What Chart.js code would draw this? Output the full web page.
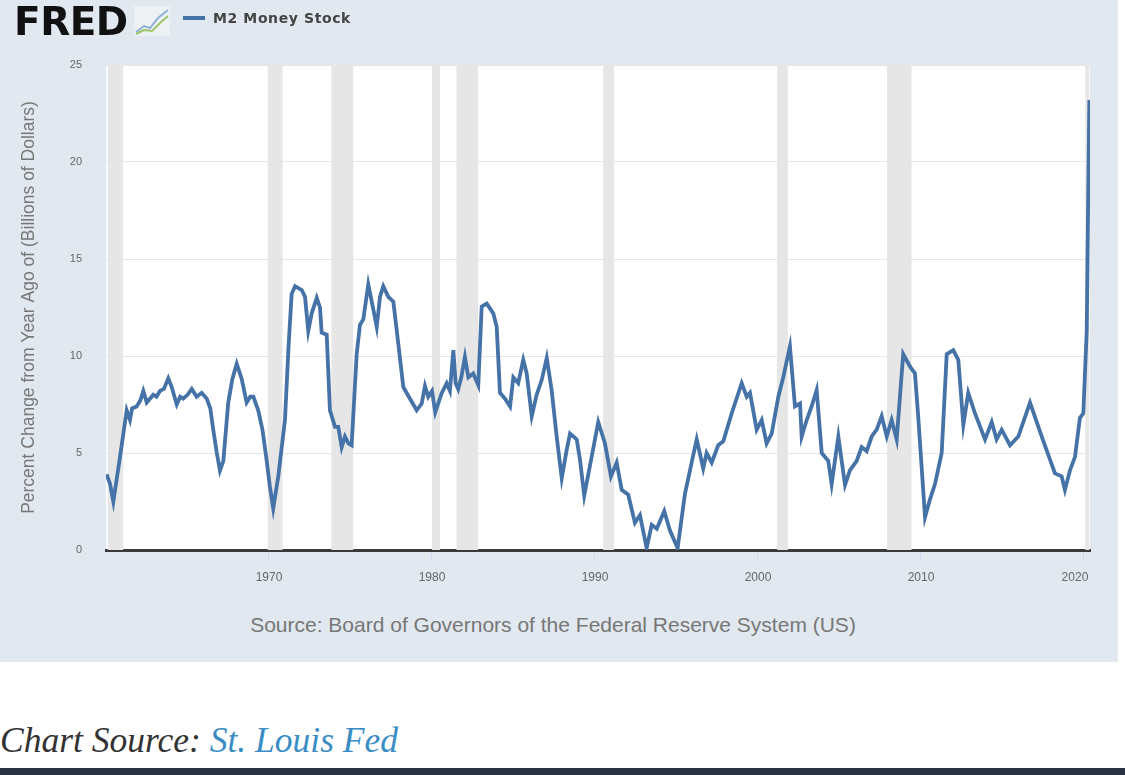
<!DOCTYPE html>
<html>
<head>
<meta charset="utf-8">
<script src="https://cdn.jsdelivr.net/npm/chart.js@4.4.1/dist/chart.umd.min.js"></script>
<style>
  html, body { margin: 0; padding: 0; background: #fff; }
  body { width: 1125px; height: 775px; position: relative; overflow: hidden; font-family: "Liberation Sans", Arial, sans-serif; }
  .panel { position: absolute; left: 0; top: 0; width: 1118px; height: 662px; background: #e1e8f0; }
  .chart-wrap { position: absolute; left: 0; top: 0; width: 1118px; height: 600px; }
  .logo { position: absolute; left: 14px; top: -1px; font-family: "DejaVu Sans", sans-serif; font-size: 39px; font-weight: bold; letter-spacing: -0.5px; color: #111; }
  .logo-icon { position: absolute; left: 134px; top: 6px; }
  .legend { position: absolute; left: 183px; top: 10px; font-family: "DejaVu Sans", sans-serif; font-size: 14px; font-weight: bold; letter-spacing: 0.6px; color: #444; }
  .legend .swatch { display: inline-block; width: 22px; height: 4px; background: #4572a7; vertical-align: middle; margin-right: 8px; position: relative; top: -1px; }
  .source { position: absolute; left: 0; top: 613px; width: 1106px; text-align: center; font-size: 21px; color: #777; }
  .credit { position: absolute; left: 0; top: 719px; font-family: "Liberation Serif", "DejaVu Serif", serif; font-style: italic; font-size: 35.5px; color: #333; }
  .credit a { color: #3a8dc4; text-decoration: none; }
  .footer-bar { position: absolute; left: 0; top: 768px; width: 1125px; height: 7px; background: #283241; }
</style>
</head>
<body>
<div class="panel"></div>
<div class="chart-wrap"><canvas id="m2Chart"></canvas></div>
<div class="logo">FRED</div>
<svg class="logo-icon" width="36" height="30" viewBox="0 0 36 30">
  <rect x="0" y="0" width="36" height="30" fill="#eef1f4"/>
  <polyline points="2,26 10,20 16,22 24,12 34,4" fill="none" stroke="#8fb0d6" stroke-width="2"/>
  <polyline points="2,28 10,24 18,25 26,17 34,10" fill="none" stroke="#9cc46a" stroke-width="2"/>
</svg>
<div class="legend"><span class="swatch"></span>M2 Money Stock</div>
<div class="source">Source: Board of Governors of the Federal Reserve System (US)</div>
<div class="credit">Chart Source: <a href="#">St. Louis Fed</a></div>
<div class="footer-bar"></div>

<script>
  // M2 money stock, percent change from year ago
  const years = [
    1960.04, 1960.25, 1960.45, 1960.86, 1961.27, 1961.47, 1961.6, 1961.88, 1962.1, 1962.29,
    1962.5, 1962.9, 1963.1, 1963.31, 1963.55, 1963.82, 1964.03, 1964.34, 1964.55, 1964.74,
    1965.0, 1965.26, 1965.56, 1965.87, 1966.18, 1966.4, 1966.58, 1966.8, 1966.99, 1967.2,
    1967.5, 1967.75, 1968.02, 1968.33, 1968.63, 1968.85, 1969.04, 1969.34, 1969.6, 1969.86,
    1970.05, 1970.26, 1970.57, 1970.98, 1971.2, 1971.39, 1971.6, 1972.01, 1972.21, 1972.41,
    1972.62, 1972.93, 1973.13, 1973.23, 1973.54, 1973.74, 1974.05, 1974.25, 1974.46, 1974.66,
    1974.87, 1975.07, 1975.38, 1975.58, 1975.79, 1976.09, 1976.4, 1976.61, 1976.81, 1977.01,
    1977.32, 1977.63, 1977.93, 1978.24, 1978.65, 1979.06, 1979.37, 1979.57, 1979.77, 1980.0,
    1980.2, 1980.6, 1980.9, 1981.1, 1981.31, 1981.45, 1981.61, 1981.8, 1982.02, 1982.23,
    1982.53, 1982.84, 1983.05, 1983.36, 1983.76, 1983.97, 1984.17, 1984.48, 1984.79, 1984.99,
    1985.29, 1985.6, 1985.81, 1986.12, 1986.42, 1986.73, 1987.04, 1987.34, 1987.65, 1987.96,
    1988.26, 1988.47, 1988.88, 1989.08, 1989.34, 1989.75, 1990.2, 1990.61, 1990.98, 1991.33,
    1991.64, 1992.04, 1992.45, 1992.76, 1993.17, 1993.48, 1993.79, 1994.25, 1994.6, 1995.07,
    1995.52, 1995.93, 1996.24, 1996.64, 1996.85, 1997.16, 1997.56, 1997.87, 1998.39, 1999.0,
    1999.31, 1999.51, 1999.92, 2000.23, 2000.53, 2000.84, 2001.25, 2001.55, 2001.96, 2002.27,
    2002.58, 2002.68, 2002.99, 2003.29, 2003.6, 2003.91, 2004.31, 2004.52, 2004.93, 2005.34,
    2005.64, 2006.06, 2006.36, 2006.67, 2006.98, 2007.28, 2007.59, 2007.9, 2008.2, 2008.51,
    2008.91, 2009.33, 2009.63, 2009.82, 2010.25, 2010.55, 2010.86, 2011.27, 2011.58, 2011.98,
    2012.29, 2012.6, 2012.9, 2013.31, 2013.93, 2014.34, 2014.64, 2014.95, 2015.46, 2015.97,
    2016.69, 2017.41, 2018.22, 2018.63, 2018.83, 2019.14, 2019.45, 2019.75, 2019.96, 2020.17,
    2020.25, 2020.33
  ];
  const m2Growth = [
    3.9, 3.4, 2.5, 4.8, 7.2, 6.7, 7.3, 7.4, 7.7, 8.2,
    7.6, 8.0, 7.9, 8.2, 8.3, 8.85, 8.4, 7.5, 7.9, 7.8,
    8.0, 8.3, 7.9, 8.1, 7.8, 7.3, 6.2, 5.0, 4.1, 4.6,
    7.6, 8.8, 9.6, 8.8, 7.6, 7.9, 7.9, 7.2, 6.2, 4.6,
    3.3, 2.15, 3.8, 6.7, 10.5, 13.2, 13.6, 13.4, 13.05, 11.3,
    12.2, 13.0, 12.5, 11.2, 11.1, 7.2, 6.35, 6.35, 5.3, 5.85,
    5.5, 5.4, 10.1, 11.6, 11.9, 13.7, 12.4, 11.5, 13.05, 13.6,
    13.05, 12.8, 10.65, 8.4, 7.8, 7.2, 7.55, 8.45, 7.9, 8.2,
    7.1, 8.1, 8.6, 8.2, 10.3, 8.6, 8.3, 8.9, 9.95, 8.9,
    9.1, 8.5, 12.55, 12.7, 12.2, 11.5, 8.1, 7.8, 7.4, 8.9,
    8.6, 9.8, 9.1, 6.9, 8.0, 8.76, 9.9, 8.25, 5.85, 3.7,
    5.15, 6.0, 5.7, 4.65, 2.8, 4.6, 6.6, 5.5, 3.8, 4.5,
    3.1, 2.85, 1.4, 1.8, 0.1, 1.3, 1.1, 2.0, 1.0, 0.1,
    2.9, 4.5, 5.7, 4.2, 5.0, 4.5, 5.4, 5.6, 7.05, 8.6,
    7.9, 8.1, 6.2, 6.7, 5.5, 6.0, 7.9, 8.9, 10.5, 7.4,
    7.55, 5.85, 6.7, 7.4, 8.25, 5.0, 4.6, 3.4, 5.85, 3.35,
    4.1, 4.6, 5.3, 5.1, 5.85, 6.2, 6.9, 5.85, 6.7, 5.7,
    10.1, 9.45, 9.1, 7.0, 1.7, 2.6, 3.4, 5.0, 10.1, 10.3,
    9.8, 6.45, 8.1, 7.05, 5.7, 6.6, 5.7, 6.2, 5.4, 5.85,
    7.6, 5.85, 3.95, 3.8, 3.1, 4.1, 4.8, 6.8, 7.05, 11.3,
    17.5, 23.2
  ];

  // NBER recessions (shaded)
  const recessionStarts = [1960.1, 1969.92, 1973.83, 1980.0, 1981.5, 1990.5, 2001.17, 2007.92, 2020.08];
  const recessionEnds   = [1961.05, 1970.83, 1975.17, 1980.5, 1982.83, 1991.17, 2001.83, 2009.42, 2020.33];

  const xTickYears = [1970, 1980, 1990, 2000, 2010, 2020];
  const yTickValues = [0, 5, 10, 15, 20, 25];

  const recessionShading = {
    id: 'recessionShading',
    beforeDatasetsDraw(chart) {
      const { ctx, chartArea, scales } = chart;
      ctx.save();
      ctx.fillStyle = '#e6e6e6';
      recessionStarts.forEach((start, i) => {
        const x0 = Math.max(scales.x.getPixelForValue(start), chartArea.left);
        const x1 = Math.min(scales.x.getPixelForValue(recessionEnds[i]), chartArea.right);
        ctx.fillRect(x0, chartArea.top, x1 - x0, chartArea.bottom - chartArea.top);
      });
      ctx.restore();
    }
  };

  const plotBackground = {
    id: 'plotBackground',
    beforeDraw(chart) {
      const { ctx, chartArea } = chart;
      ctx.save();
      ctx.fillStyle = '#ffffff';
      ctx.fillRect(chartArea.left, chartArea.top, chartArea.right - chartArea.left, chartArea.bottom - chartArea.top);
      ctx.restore();
    }
  };

  const ctx = document.getElementById('m2Chart').getContext('2d');

  const m2Chart = new Chart(ctx, {
    type: 'line',
    data: {
      datasets: [{
        label: 'M2 Money Stock',
        data: years.map((yr, i) => ({ x: yr, y: m2Growth[i] })),
        borderColor: '#4572a7',
        borderWidth: 3.8,
        pointRadius: 0,
        tension: 0,
        fill: false
      }]
    },
    options: {
      responsive: true,
      maintainAspectRatio: false,
      animation: false,
      layout: { padding: { top: 65, right: 28, left: 0, bottom: 0 } },
      plugins: {
        legend: { display: false },
        tooltip: { enabled: false }
      },
      scales: {
        x: {
          type: 'linear',
          min: 1960,
          max: 2020.37,
          afterBuildTicks: axis => { axis.ticks = xTickYears.map(v => ({ value: v })); },
          afterFit: axis => { axis.height = 50; },
          grid: {
            drawOnChartArea: false,
            drawTicks: true,
            tickLength: 9,
            color: '#ccd6eb'
          },
          border: { display: true, color: '#3a3a3a', width: 3 },
          ticks: {
            color: '#666',
            font: { size: 12, family: 'Liberation Sans' },
            padding: 11,
            maxRotation: 0,
            // last label is pulled left to stay inside the plot, like the original
            callback: v => v === 2020 ? '2020\u2002\u2002\u2002' : String(v)
          }
        },
        y: {
          min: 0,
          max: 25,
          afterBuildTicks: axis => { axis.ticks = yTickValues.map(v => ({ value: v })); },
          afterFit: axis => { axis.width = 106; },
          grid: { color: '#e6e6e6', lineWidth: 1, drawTicks: false },
          border: { display: false },
          ticks: {
            color: '#666',
            font: { size: 11, family: 'Liberation Sans' },
            padding: 24
          },
          title: {
            display: true,
            text: 'Percent Change from Year Ago of (Billions of Dollars)',
            color: '#777',
            font: { size: 17.5, family: 'Liberation Sans' },
            padding: { top: 19, bottom: 0 }
          }
        }
      }
    },
    plugins: [plotBackground, recessionShading]
  });
</script>
</body>
</html>
